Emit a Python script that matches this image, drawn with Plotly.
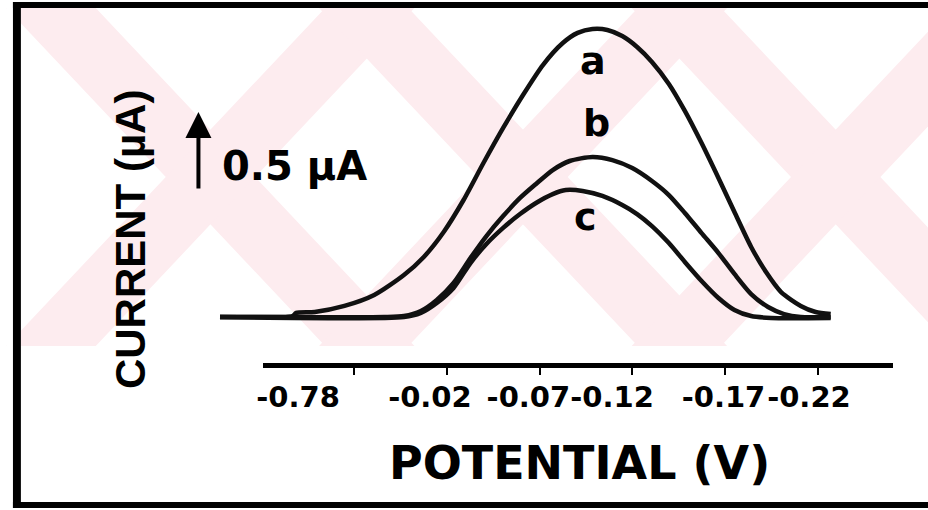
import plotly.graph_objects as go

# ---------------- data ----------------
potential_a = [0.102, 0.083, 0.063, 0.061, 0.051, 0.035, 0.019, 0.003, -0.0077, -0.0184,
               -0.0291, -0.0398, -0.0504, -0.0611, -0.0718, -0.0825, -0.0905, -0.0985,
               -0.1065, -0.1145, -0.1225, -0.1305, -0.1396, -0.1482, -0.1572, -0.1663,
               -0.1749, -0.1839, -0.1919, -0.2000, -0.2106, -0.2186, -0.2267]
current_a = [0, 0, 0.006, 0.026, 0.032, 0.071, 0.141, 0.269, 0.385, 0.545,
             0.750, 0.987, 1.212, 1.423, 1.615, 1.756, 1.821, 1.846,
             1.840, 1.801, 1.731, 1.635, 1.494, 1.321, 1.115, 0.891,
             0.673, 0.449, 0.288, 0.160, 0.071, 0.032, 0.019]

potential_b = [0.102, 0.0136, 0.003, -0.0061, -0.0147, -0.0237, -0.0328, -0.0414, -0.0504,
               -0.0595, -0.0681, -0.0771, -0.0862, -0.0985, -0.1092, -0.1199, -0.1305,
               -0.1396, -0.1482, -0.1572, -0.1663, -0.1749, -0.1839, -0.1930, -0.2016,
               -0.2106, -0.2267]
current_b = [0, 0, 0.006, 0.038, 0.109, 0.218, 0.378, 0.519, 0.647,
             0.763, 0.853, 0.942, 1.000, 1.026, 1.006, 0.955, 0.872,
             0.782, 0.667, 0.538, 0.410, 0.276, 0.147, 0.064, 0.019,
             0, 0]

potential_c = [0.102, 0.003, -0.0061, -0.0147, -0.0237, -0.0328, -0.0414, -0.0504,
               -0.0595, -0.0681, -0.0771, -0.0841, -0.0932, -0.1038, -0.1145, -0.1225,
               -0.1305, -0.1396, -0.1482, -0.1572, -0.1663, -0.1749, -0.1839, -0.1946,
               -0.2267]
current_c = [0, 0, 0.026, 0.090, 0.186, 0.346, 0.468, 0.571,
             0.660, 0.731, 0.788, 0.814, 0.808, 0.776, 0.718, 0.660,
             0.583, 0.474, 0.353, 0.231, 0.122, 0.045, 0.006, -0.006,
             -0.006]

tick_values = [0.03, -0.02, -0.07, -0.12, -0.17, -0.22]
tick_labels = ["-0.78", "-0.02", "-0.07", "-0.12", "-0.17", "-0.22"]
tick_label_positions = [0.060, -0.011, -0.064, -0.109, -0.169, -0.215]

curve_names = ["a", "b", "c"]
curve_label_potential = [-0.0985, -0.1007, -0.0948]
curve_label_current = [1.641, 1.244, 0.641]

scale_bar_potential = 0.1136
scale_bar_base = 0.814
scale_bar_length = 0.5

# ---------------- layout helpers ----------------
W, H = 928, 510
K = 0.05 / 93.6          # volts per pixel along x
def E_at(px): return -0.02 - (px - 443) * K
def I_at(py): return (317 - py) / 156.0
def fx(px): return px / W
def fy(py): return 1 - py / H

BOLD = dict(family="DejaVu Sans", color="black", weight="bold")

fig = go.Figure()
for xs, ys in [(potential_a, current_a), (potential_b, current_b), (potential_c, current_c)]:
    fig.add_trace(go.Scatter(x=xs, y=ys, mode="lines",
                             line=dict(color="#111111", width=4.5, shape="spline", smoothing=0.7),
                             showlegend=False, hoverinfo="skip"))
# carriers for the drawn axis line/ticks and for the tick labels
fig.add_trace(go.Scatter(x=[], y=[], xaxis="x2", yaxis="y", showlegend=False, hoverinfo="skip"))
fig.add_trace(go.Scatter(x=[], y=[], xaxis="x3", yaxis="y", showlegend=False, hoverinfo="skip"))

# ---------------- watermark (decorative) ----------------
PINK = "rgb(253,236,239)"
shapes = []
top, bot = 8, 346
dxdy = 0.95
shift = (bot - top) * dxdy
wband = 90
for cx in [205, 520, 835]:
    t = cx - shift / 2 - wband / 2
    pts = [(t, top), (t + wband, top), (t + wband + shift, bot), (t + shift, bot)]
    path = "M " + " L ".join(f"{fx(p[0])},{fy(p[1])}" for p in pts) + " Z"
    shapes.append(dict(type="path", path=path, xref="paper", yref="paper",
                       fillcolor=PINK, line=dict(width=0), layer="below"))
    pts = [(t, bot), (t + wband, bot), (t + wband + shift, top), (t + shift, top)]
    path = "M " + " L ".join(f"{fx(p[0])},{fy(p[1])}" for p in pts) + " Z"
    shapes.append(dict(type="path", path=path, xref="paper", yref="paper",
                       fillcolor=PINK, line=dict(width=0), layer="below"))
shapes.append(dict(type="rect", xref="paper", yref="paper", x0=0, x1=fx(14), y0=0, y1=1,
                   fillcolor="white", line=dict(width=0), layer="below"))
# frame
for (x0, x1, y0, y1) in [(6, 928, 2, 8), (6, 14, 2, 508), (6, 928, 502, 508)]:
    shapes.append(dict(type="rect", xref="paper", yref="paper",
                       x0=fx(x0), x1=fx(x1), y0=fy(y1), y1=fy(y0),
                       fillcolor="black", line=dict(width=0), layer="above"))

annotations = []
annotations.append(dict(text="CURRENT (µA)", textangle=-90, xref="paper", yref="paper",
                        x=fx(124), y=fy(239), xanchor="center", yanchor="middle",
                        showarrow=False,
                        font=dict(family="Liberation Sans", size=42,
                                  color="black", weight="bold")))
annotations.append(dict(text="POTENTIAL (V)", xref="paper", yref="paper",
                        x=fx(577), y=fy(463), xanchor="center", yanchor="middle",
                        showarrow=False, font=dict(**BOLD, size=46)))
annotations.append(dict(text="0.5 µA", xref="paper", yref="paper",
                        x=fx(290), y=fy(166), xanchor="center", yanchor="middle",
                        showarrow=False, font=dict(**BOLD, size=40)))
annotations.append(dict(text="", xref="x", yref="y", axref="x", ayref="y",
                        x=scale_bar_potential, y=scale_bar_base + scale_bar_length,
                        ax=scale_bar_potential, ay=scale_bar_base,
                        showarrow=True, arrowhead=2, arrowsize=1.3, arrowwidth=4,
                        arrowcolor="black"))
for name, xe, yi in zip(curve_names, curve_label_potential, curve_label_current):
    annotations.append(dict(text=name, xref="x", yref="y", x=xe, y=yi, showarrow=False,
                            xanchor="center", yanchor="middle",
                            font=dict(**BOLD, size=38)))

fig.update_layout(
    width=W, height=H, margin=dict(l=0, r=0, t=0, b=0),
    paper_bgcolor="white", plot_bgcolor="rgba(0,0,0,0)",
    showlegend=False,
    xaxis=dict(domain=[fx(180), fx(900)], range=[E_at(180), E_at(900)], visible=False),
    yaxis=dict(domain=[fy(345), fy(10)], range=[I_at(345), I_at(10)], visible=False),
    xaxis2=dict(domain=[fx(258), fx(893)], range=[E_at(258), E_at(893)],
                anchor="free", position=fy(365), showline=True, linewidth=5,
                linecolor="black", ticks="outside", ticklen=7, tickwidth=2,
                tickcolor="black", tickvals=tick_values, showticklabels=False,
                showgrid=False, zeroline=False),
    xaxis3=dict(domain=[fx(258), fx(893)], range=[E_at(258), E_at(893)],
                anchor="free", position=fy(377), showline=False, ticks="",
                tickvals=tick_label_positions, ticktext=tick_labels, tickangle=0,
                tickfont=dict(**BOLD, size=29), showgrid=False, zeroline=False),
    shapes=shapes, annotations=annotations,
)
fig.write_html("out.html")
